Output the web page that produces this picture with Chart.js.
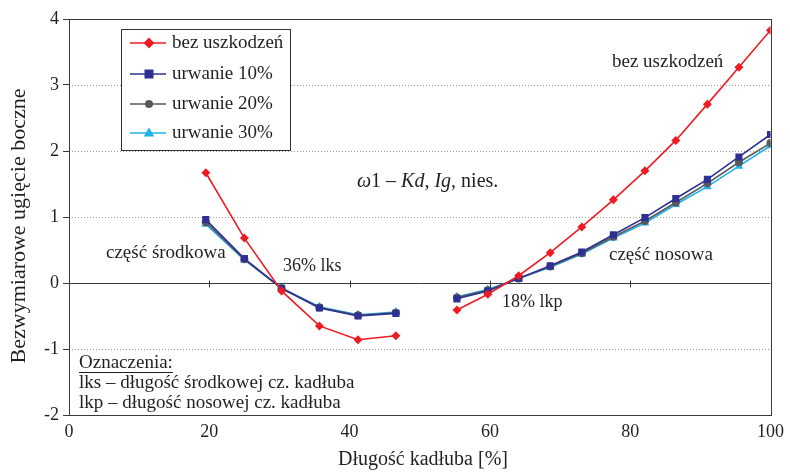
<!DOCTYPE html>
<html lang="pl">
<head>
<meta charset="UTF-8">
<title>Ugięcie boczne</title>
<script src="https://cdn.jsdelivr.net/npm/chart.js"></script>
<style>
  html, body { margin: 0; padding: 0; background: #fff; }
  #wrap { width: 790px; height: 472px; }
</style>
</head>
<body>
<div id="wrap"><canvas id="wykres" width="790" height="472"></canvas></div>
<script>
// położenie przekrojów wzdłuż kadłuba [%]; null przerywa linię
const xPos = [19.5, 25.0, 30.3, 35.7, 41.2, 46.6, 50, 55.3, 59.7, 64.1, 68.6, 73.1, 77.6, 82.1, 86.5, 91.0, 95.5, 100];
const bezUszkodzen = [1.67, 0.68, -0.12, -0.65, -0.86, -0.80, null, -0.41, -0.17, 0.11, 0.46, 0.85, 1.26, 1.70, 2.16, 2.71, 3.27, 3.83];
const urwanie10 = [0.96, 0.37, -0.08, -0.38, -0.50, -0.46, null, -0.24, -0.12, 0.07, 0.26, 0.47, 0.73, 0.99, 1.28, 1.57, 1.91, 2.25];
const urwanie20 = [0.92, 0.36, -0.08, -0.37, -0.49, -0.45, null, -0.22, -0.11, 0.07, 0.25, 0.45, 0.70, 0.94, 1.22, 1.51, 1.83, 2.12];
const urwanie30 = [0.89, 0.35, -0.08, -0.36, -0.48, -0.44, null, -0.21, -0.10, 0.07, 0.24, 0.44, 0.68, 0.91, 1.19, 1.46, 1.77, 2.08];
const xTicks = [0, 20, 40, 60, 80, 100];
const yTicks = [-2, -1, 0, 1, 2, 3, 4];

const FONT = '"Liberation Serif", "DejaVu Serif", serif';
const TXT = '#231f20';

const serie = [
  { label: 'bez uszkodzeń', dane: bezUszkodzen, kolor: '#ed1c24', punkt: 'rectRot', r: 4.5 },
  { label: 'urwanie 10%', dane: urwanie10, kolor: '#2e3192', punkt: 'rect', r: 5 },
  { label: 'urwanie 20%', dane: urwanie20, kolor: '#58595b', punkt: 'circle', r: 4 },
  { label: 'urwanie 30%', dane: urwanie30, kolor: '#1fb1ea', punkt: 'triangle', r: 5 }
];

function rysujZnacznik(ctx, styl, x, y, r, kolor) {
  ctx.save();
  ctx.fillStyle = kolor;
  ctx.beginPath();
  if (styl === 'rectRot') {
    ctx.moveTo(x, y - r * 1.2); ctx.lineTo(x + r * 1.2, y); ctx.lineTo(x, y + r * 1.2); ctx.lineTo(x - r * 1.2, y);
  } else if (styl === 'rect') {
    ctx.rect(x - r * 0.9, y - r * 0.9, r * 1.8, r * 1.8);
  } else if (styl === 'circle') {
    ctx.arc(x, y, r, 0, Math.PI * 2);
  } else {
    ctx.moveTo(x, y - r * 1.1); ctx.lineTo(x + r * 1.05, y + r * 0.7); ctx.lineTo(x - r * 1.05, y + r * 0.7);
  }
  ctx.closePath();
  ctx.fill();
  ctx.restore();
}

// ramka, siatka kropkowana, linia zerowa, tytuły osi i napisy
const dodatki = {
  id: 'dodatki',
  beforeDatasetsDraw(chart) {
    const { ctx, chartArea: a, scales: { x, y } } = chart;
    ctx.save();
    ctx.strokeStyle = '#9a9a9a';
    ctx.lineWidth = 1;
    ctx.setLineDash([1, 2]);
    yTicks.forEach(v => {
      if (v === 0 || v === -2 || v === 4) return;
      const py = Math.round(y.getPixelForValue(v)) + 0.5;
      ctx.beginPath(); ctx.moveTo(a.left, py); ctx.lineTo(a.right, py); ctx.stroke();
    });
    ctx.setLineDash([]);
    ctx.strokeStyle = '#3a3a3a';
    const y0 = Math.round(y.getPixelForValue(0)) + 0.5;
    ctx.beginPath(); ctx.moveTo(a.left, y0); ctx.lineTo(a.right, y0); ctx.stroke();
    // kreski podziałki na osi zerowej
    xTicks.forEach(v => {
      if (v === 0 || v === 100) return;
      const px = Math.round(x.getPixelForValue(v)) + 0.5;
      ctx.beginPath(); ctx.moveTo(px, y0 - 3); ctx.lineTo(px, y0 + 4); ctx.stroke();
    });
    ctx.strokeRect(Math.round(a.left) + 0.5, Math.round(a.top) + 0.5, Math.round(a.right - a.left), Math.round(a.bottom - a.top));
    ctx.restore();
  },
  afterDraw(chart) {
    const { ctx } = chart;
    ctx.save();
    ctx.textBaseline = 'middle';

    // tytuły osi
    ctx.fillStyle = TXT;
    ctx.textAlign = 'center';
    ctx.font = '20px ' + FONT;
    ctx.fillText('Długość kadłuba [%]', 423, 460);
    ctx.save();
    ctx.translate(19.5, 226);
    ctx.rotate(-Math.PI / 2);
    ctx.font = '22px ' + FONT;
    ctx.fillText('Bezwymiarowe ugięcie boczne', 0, 0);
    ctx.restore();

    // legenda
    ctx.font = '19px ' + FONT;
    ctx.fillStyle = '#fff';
    ctx.fillRect(121, 29, 170, 122);
    ctx.strokeStyle = '#333';
    ctx.lineWidth = 1;
    ctx.strokeRect(121.5, 29.5, 169, 121);
    const wiersze = [43, 74, 104, 133];
    serie.forEach((s, i) => {
      const wy = wiersze[i];
      ctx.strokeStyle = s.kolor;
      ctx.lineWidth = 1.6;
      ctx.beginPath(); ctx.moveTo(130, wy); ctx.lineTo(166, wy); ctx.stroke();
      rysujZnacznik(ctx, s.punkt, 149, wy, s.r, s.kolor);
      ctx.fillStyle = TXT;
      ctx.textAlign = 'left';
      ctx.fillText(s.label, 172, wy);
    });

    // opisy w polu wykresu
    ctx.textAlign = 'left';
    ctx.fillText('bez uszkodzeń', 612, 62);
    ctx.fillText('część środkowa', 106, 253);
    ctx.fillText('część nosowa', 609, 255);
    ctx.font = '18px ' + FONT;
    ctx.fillText('36% lks', 283, 266);
    ctx.fillText('18% lkp', 502, 302);

    // ω1 – Kd, Ig, nies.
    const czesci = [['ω', true], ['1 – ', false], ['Kd', true], [', ', false], ['Ig', true], [', nies.', false]];
    let px = 357;
    czesci.forEach(([t, kursywa]) => {
      ctx.font = (kursywa ? 'italic ' : '') + '20px ' + FONT;
      ctx.fillText(t, px, 182);
      px += ctx.measureText(t).width;
    });

    ctx.font = '19px ' + FONT;
    ctx.fillText('Oznaczenia:', 79, 363);
    const w = ctx.measureText('Oznaczenia:').width;
    ctx.strokeStyle = TXT;
    ctx.lineWidth = 1;
    ctx.beginPath(); ctx.moveTo(79, 372.5); ctx.lineTo(79 + w, 372.5); ctx.stroke();
    ctx.fillText('lks – długość środkowej cz. kadłuba', 79, 383);
    ctx.fillText('lkp – długość nosowej cz. kadłuba', 79, 403);
    ctx.restore();
  }
};

new Chart(document.getElementById('wykres'), {
  type: 'line',
  data: {
    datasets: serie.map(s => ({
      label: s.label,
      data: xPos.map((xv, i) => ({ x: xv, y: s.dane[i] })),
      borderColor: s.kolor,
      backgroundColor: s.kolor,
      borderWidth: 1.6,
      pointStyle: s.punkt,
      pointRadius: s.r,
      pointBorderWidth: 0,
      spanGaps: false,
      tension: 0
    }))
  },
  options: {
    responsive: false,
    animation: false,
    events: [],
    layout: { padding: { left: 0, right: 19, top: 19, bottom: 0 } },
    plugins: { legend: { display: false }, tooltip: { enabled: false } },
    scales: {
      x: {
        type: 'linear', min: 0, max: 100,
        afterBuildTicks: s => { s.ticks = xTicks.map(v => ({ value: v })); },
        afterFit: s => { s.height = 57; },
        grid: { display: false, drawTicks: false },
        border: { display: false },
        ticks: { color: TXT, font: { family: FONT, size: 18 }, padding: 6, maxRotation: 0 }
      },
      y: {
        min: -2, max: 4,
        afterBuildTicks: s => { s.ticks = yTicks.map(v => ({ value: v })); },
        afterFit: s => { s.width = 69; },
        grid: { drawOnChartArea: false, drawTicks: true, tickLength: 6, color: '#3a3a3a' },
        border: { display: false },
        ticks: { color: TXT, font: { family: FONT, size: 18 }, padding: 4 }
      }
    }
  },
  plugins: [dodatki]
});
</script>
</body>
</html>
